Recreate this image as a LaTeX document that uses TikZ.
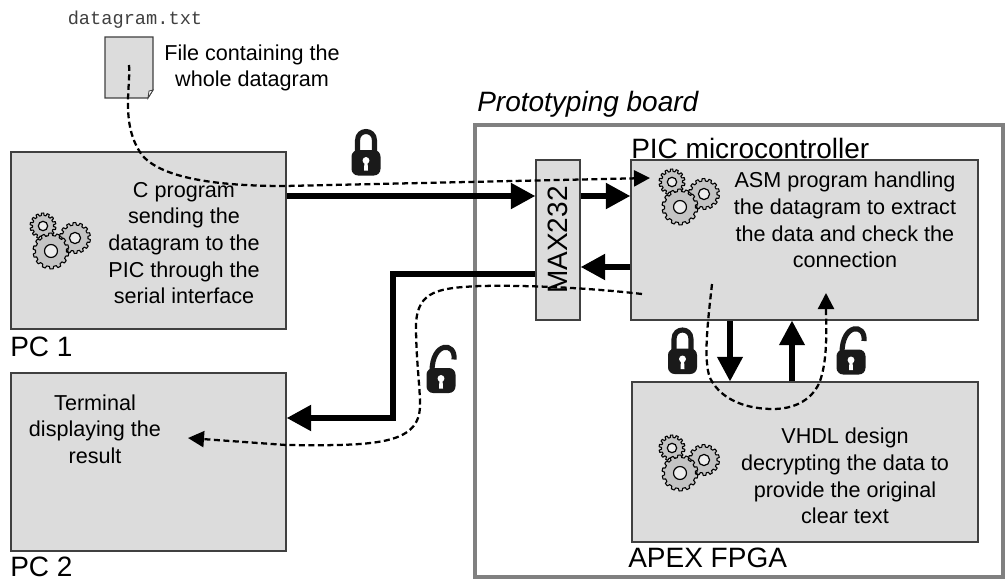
\documentclass[tikz,border=0pt]{standalone}
\usepackage{fontspec}
\usepackage{graphicx}
\setmainfont{Liberation Sans}
\setmonofont{Liberation Mono}
\usetikzlibrary{arrows.meta}

\definecolor{boxgrey}{HTML}{DCDCDC}
\definecolor{gearfill}{HTML}{C4C4C4}
\definecolor{framegrey}{HTML}{808080}
\definecolor{lockblack}{HTML}{1A1A1A}

\tikzset{
  block/.style={draw=black!75,fill=boxgrey,line width=0.8pt,inner sep=0pt},
  desc/.style={align=center,inner sep=0pt,font=\fontsize{16.2}{20}\selectfont},
  tag/.style={anchor=west,inner sep=0pt,font=\fontsize{21}{25}\selectfont},
  thickarrow/.style={line width=4.7pt,-{Triangle[length=18.5pt,width=18.5pt]}},
  keyarrow/.style={line width=4pt,-{Triangle[length=18.5pt,width=18.5pt]}},
  dashline/.style={line width=1.7pt,dash pattern=on 4.5pt off 2.6pt,-{Triangle[length=12pt,width=12pt]}},
  gears/.pic={
    \foreach \gx/\gy/\gr in {0/0/13, 32/12/15.5, 8/25/18} {
      \begin{scope}[shift={(\gx,\gy)}]
        \draw[fill=gearfill,line width=0.8pt,line join=round]
          (0:\gr-2.5)
          \foreach \t in {0,...,13} {
            -- ({\t*360/14+3}:\gr-2.5) -- ({\t*360/14+6}:\gr) -- ({\t*360/14+16}:\gr) -- ({\t*360/14+19}:\gr-2.5) -- ({(\t+1)*360/14}:\gr-2.5)
          } -- cycle;
        \draw[fill=boxgrey!50!white,line width=0.9pt] (0,0) circle[radius=\gr*0.75pt*0.36];
      \end{scope}
    }
  },
  lockshut/.pic={
    \draw[lockblack,line width=3.8pt] (-8.5,-8) -- (-8.5,-22) .. controls (-8.5,-34) and (8.5,-34) .. (8.5,-22) -- (8.5,-8);
    \fill[lockblack,rounded corners=5pt] (-14.5,-12.5) rectangle (14.5,13);
    \fill[white] (0,-2) circle[radius=2.6pt];
    \fill[white] (-1.6,0) -- (1.6,0) -- (2,8) -- (-2,8) -- cycle;
  },
  lockopen/.pic={
    \draw[lockblack,line width=3.8pt] (-9,-9) .. controls (-9,-39) and (15,-39) .. (13,-21);
    \fill[lockblack,rounded corners=5pt] (-14.5,-12.5) rectangle (14.5,12.5);
    \fill[white] (0,-2) circle[radius=2.6pt];
    \fill[white] (-1.6,0) -- (1.6,0) -- (2,8) -- (-2,8) -- cycle;
  }
}

\begin{document}
\begin{tikzpicture}[x=0.75pt,y=-0.75pt]

    \useasboundingbox (0,0) rectangle (1007,585);

    % board and blocks
    \node[draw=framegrey,line width=2.6pt,minimum width=528*0.75pt,minimum height=452*0.75pt,inner sep=0pt] (board) at (739,351) {};

    \node[block,minimum width=275*0.75pt,minimum height=177*0.75pt] (pc1) at (148.5,240.5) {};
    \node[block,minimum width=275*0.75pt,minimum height=178*0.75pt] (pc2) at (148.5,462) {};
    \node[block,minimum width=347*0.75pt,minimum height=160*0.75pt] (pic) at (804.5,240) {};
    \node[block,minimum width=346*0.75pt,minimum height=160*0.75pt] (fpga) at (805,462) {};
    \node[block,minimum width=44*0.75pt,minimum height=160*0.75pt,font=\fontsize{21}{25}\selectfont] (max) at (558,240) {\rotatebox{90}{MAX232}};

    % the file
    \draw[fill=boxgrey,draw=black!75,line width=0.8pt] (105,37) -- (153,37) -- (153,90) -- (148,98) -- (105,98) -- cycle;
    \draw[fill=white,draw=black!75,line width=0.6pt] (153,90) -- (148,98) -- (149,91) -- cycle;
    \coordinate (filein) at (129,65);

    % texts
    \node[inner sep=0pt,text=black!75,font=\ttfamily\fontsize{14}{17}\selectfont] (fname) at (135,20) {datagram.txt};
    \node[desc] (filetxt) at (252,68) {File containing the\\whole datagram};
    \node[desc] (pc1txt) at (184,243) {C program\\sending the\\datagram to the\\PIC through the\\serial interface};
    \node[desc] (pc2txt) at (95,429) {Terminal\\displaying the\\result};
    \node[desc] (pictxt) at (845,220) {ASM program handling\\the datagram to extract\\the data and check the\\connection};
    \node[desc] (fpgatxt) at (845,476) {VHDL design\\decrypting the data to\\provide the original\\clear text};

    \node[tag] (pc1tag) at (10,347) {PC 1};
    \node[tag] (pc2tag) at (10,567) {PC 2};
    \node[tag] (pictag) at (631,148) {PIC microcontroller};
    \node[tag] (fpgatag) at (628,558) {APEX FPGA};
    \node[tag,font=\fontsize{21}{25}\selectfont\itshape] (boardtag) at (477,104) {Prototyping board};

    \pic (gearsa) at (43,226) {gears};
    \pic (gearsb) at (672,182) {gears};
    \pic (gearsc) at (672,448) {gears};

    % levels of the links
    \coordinate (ytx) at (0,196);
    \coordinate (yrx) at (0,267);
    \coordinate (yout) at (0,274);
    \coordinate (yterm) at (0,418);
    \coordinate (xdown) at (730,0);
    \coordinate (xup) at (792,0);
    \coordinate (xbus) at (393,0);

    \draw[thickarrow] (pc1.east |- ytx) -- (max.west |- ytx);
    \draw[thickarrow] (max.east |- ytx) -- (pic.west |- ytx);
    \draw[thickarrow] (pic.west |- yrx) -- (max.east |- yrx);
    \draw[thickarrow] (max.west |- yout) -- (xbus |- yout) -- (xbus |- yterm) -- (pc2.east |- yterm);
    \draw[keyarrow] (xdown |- pic.south) -- (xdown |- fpga.north);
    \draw[keyarrow] (xup |- fpga.north) -- (xup |- pic.south);

    % the way of the data
    \coordinate (ciphin) at (650,178);
    \coordinate (picout) at (642,294);
    \coordinate (termin) at (188,438);
    \coordinate (picdown) at (712,284);
    \coordinate (picup) at (826,293);

    \draw[dashline] (filein) .. controls (131,85) and (120,125) .. (142,155)
      .. controls (165,183) and (240,186) .. (285,186) -- (ciphin);
    \draw[dashline] (picout) .. controls (590,288) and (530,285) .. (480,286)
      .. controls (440,288) and (417,290) .. (416,325)
      .. controls (416,360) and (420,385) .. (420,405)
      .. controls (420,445) and (375,446) .. (286,445) -- (termin);
    \draw[dashline] (picdown) .. controls (708,320) and (703,360) .. (710,378)
      .. controls (722,402) and (750,409) .. (773,409)
      .. controls (800,409) and (816,395) .. (821,378)
      .. controls (828,355) and (826,325) .. (picup);

    \pic (locka) at (366,162.5) {lockshut};
    \pic (lockb) at (682.5,361) {lockshut};
    \pic (lockc) at (441,380.5) {lockopen};
    \pic (lockd) at (851,362) {lockopen};

\end{tikzpicture}
\end{document}
